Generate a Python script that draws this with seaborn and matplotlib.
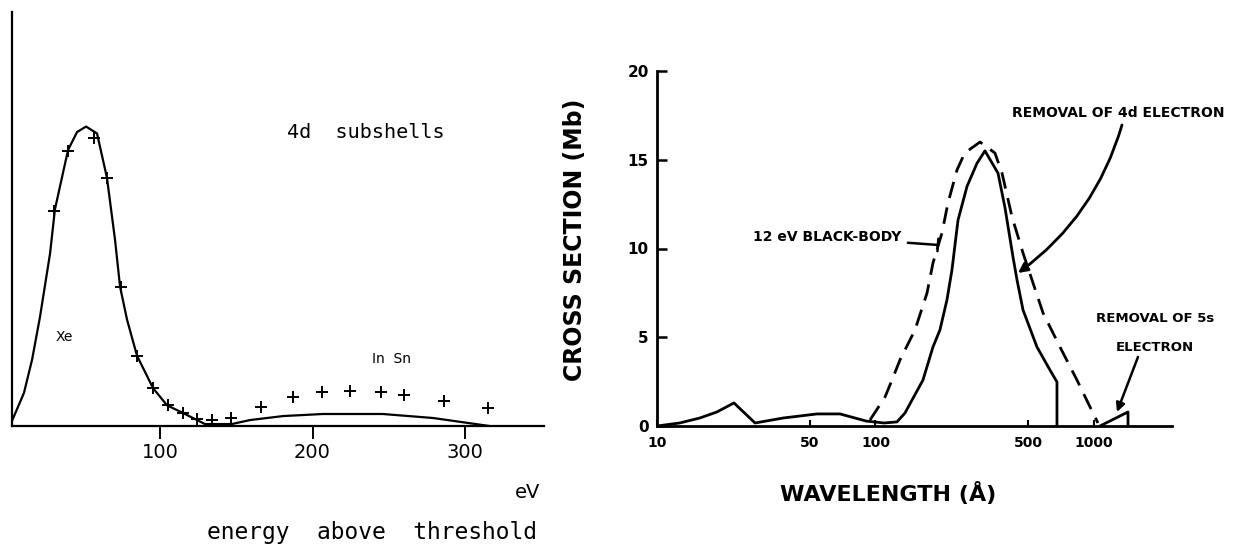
import numpy as np
import pandas as pd
import matplotlib
matplotlib.use("Agg")
import matplotlib.pyplot as plt
import seaborn as sns
from matplotlib import font_manager

# ---------------- data: left panel (4d subshells, arbitrary units) ----------------
xe_curve_ev = [2.3, 10.8, 16.1, 21.3, 23.3, 27.9, 31.1, 39.7, 45.6, 51.5, 58.7, 65.2,
               70.5, 73.8, 78.4, 84.9, 95.4, 104.6, 115.1, 124.3, 129.5, 147.0,
               159.0, 180.7, 206.9, 246.0, 279.0, 316.0]
xe_curve_y = [0.2, 2.4, 4.8, 7.9, 9.3, 12.5, 15.7, 20.0, 21.3, 21.7, 21.2, 18.0,
              13.5, 10.1, 7.7, 5.1, 2.75, 1.5, 0.94, 0.43, 0.14, 0.14,
              0.43, 0.72, 0.87, 0.87, 0.58, 0.0]
xe_pts_ev = [30.5, 39.7, 56.7, 65.2, 74.4, 84.9, 95.4, 105.2, 115.1, 124.3, 134.1, 146.6]
xe_pts_y = [15.6, 19.9, 20.9, 18.0, 10.1, 5.1, 2.75, 1.52, 0.94, 0.5, 0.43, 0.58]
insn_pts_ev = [166.2, 187.5, 206.2, 224.9, 244.6, 260.3, 285.9, 314.8]
insn_pts_y = [1.38, 2.07, 2.5, 2.57, 2.46, 2.25, 1.81, 1.27]
left_xticks = [100, 200, 300]

# ---------------- data: right panel (cross section vs wavelength) ----------------
solid_wl = [10, 12.7, 15.7, 18.8, 22.5, 28.1, 37.8, 54.0, 68.8, 90.5, 109.4, 125.4,
            136.4, 164.9, 183.2, 197.2, 212.3, 223.8, 238.6, 262.3, 291.4, 316.9,
            363.6, 391.4, 425.9, 444.3, 473.2, 548.3, 629.0, 677.0, 677.0]
solid_mb = [0.0, 0.17, 0.45, 0.79, 1.30, 0.17, 0.45, 0.68, 0.68, 0.28, 0.17, 0.23,
            0.73, 2.59, 4.45, 5.41, 7.10, 8.79, 11.6, 13.5, 14.8, 15.5,
            14.25, 12.3, 9.52, 8.23, 6.54, 4.45, 3.15, 2.48, 0.0]
s5_wl = [1065, 1431, 1431]
s5_mb = [0.0, 0.79, 0.0]
bb_wl = [94.4, 110.5, 119, 129.4, 151.6, 172.1, 183.2, 201.4, 214.6, 236, 256, 301,
         352, 379.3, 421.7, 473.2, 525.8, 584.4, 698.9, 835.6, 989.4, 1042.6]
bb_mb = [0.34, 1.63, 2.59, 3.72, 5.41, 7.49, 9.18, 10.87, 12.56, 14.42, 15.38, 16.0,
         15.38, 14.25, 11.77, 9.75, 8.06, 6.37, 4.45, 2.59, 0.73, 0.17]
right_xticks = [10, 50, 100, 500, 1000]
right_yticks = [0, 5, 10, 15, 20]

# ---------------- style ----------------
sns.set_theme(style="white", rc={"text.color": "black", "axes.labelcolor": "black",
                                 "xtick.color": "black", "ytick.color": "black",
                                 "axes.edgecolor": "black"})


def has_font(name):
    try:
        font_manager.findfont(font_manager.FontProperties(family=name),
                              fallback_to_default=False)
        return True
    except Exception:
        return False


if has_font("Liberation Sans Narrow"):
    narrow = "Liberation Sans Narrow"
    sz_tick, sz_ev, sz_small = 16.5, 16, 11
else:
    narrow = "DejaVu Sans"
    sz_tick, sz_ev, sz_small = 14, 14, 10
plt.rcParams["font.family"] = ["DejaVu Sans"]
mono = "DejaVu Sans Mono"
bold = dict(family="DejaVu Sans", weight="bold")

W, H = 1237, 546
fig = plt.figure(figsize=(W / 100, H / 100), dpi=100)
fig.patch.set_facecolor("white")

# ---------------- left panel ----------------
ax1 = fig.add_axes([12 / W, 120 / H, 532 / W, 414 / H])
left_line = pd.DataFrame({"ev": xe_curve_ev, "y": xe_curve_y})
sns.lineplot(data=left_line, x="ev", y="y", ax=ax1, color="black", lw=1.6,
             estimator=None, sort=False)
left_pts = pd.DataFrame({"ev": xe_pts_ev + insn_pts_ev, "y": xe_pts_y + insn_pts_y})
sns.scatterplot(data=left_pts, x="ev", y="y", ax=ax1, marker="+", s=70,
                color="black", linewidth=1.4)
ax1.set_xlim(2.95, 351.8)
ax1.set_ylim(0, 30)
for s in ["top", "right"]:
    ax1.spines[s].set_visible(False)
for s in ["left", "bottom"]:
    ax1.spines[s].set_color("black")
    ax1.spines[s].set_linewidth(1.6)
ax1.set_yticks([])
ax1.set_xticks(left_xticks)
ax1.set_xticklabels([str(v) for v in left_xticks], family=narrow, fontsize=sz_tick,
                    color="black")
ax1.tick_params(axis="x", direction="out", length=9, width=1.4, pad=3, colors="black",
                bottom=True)
ax1.set_xlabel("")
ax1.set_ylabel("")
ax1.set_facecolor("white")

fig.text(287 / W, 1 - 133 / H, "4d  subshells", family=mono, fontsize=14.5,
         ha="left", va="center", color="black")
fig.text(64 / W, 1 - 337 / H, "Xe", family=narrow, fontsize=sz_small,
         ha="center", va="center", color="black")
fig.text(392 / W, 1 - 359 / H, "In  Sn", family=narrow, fontsize=sz_small,
         ha="center", va="center", color="black")
fig.text(528 / W, 1 - 492 / H, "eV", family=narrow, fontsize=sz_ev,
         ha="center", va="center", color="black")
fig.text(372 / W, 1 - 533 / H, "energy  above  threshold", family=mono, fontsize=16.5,
         ha="center", va="center", color="black")

# ---------------- right panel ----------------
ax2 = fig.add_axes([657 / W, 120 / H, 515 / W, 355 / H])
ax2.set_xscale("log")
solid_df = pd.DataFrame({"wl": solid_wl, "mb": solid_mb})
sns.lineplot(data=solid_df, x="wl", y="mb", ax=ax2, color="black", lw=2.0,
             estimator=None, sort=False)
s5_df = pd.DataFrame({"wl": s5_wl, "mb": s5_mb})
sns.lineplot(data=s5_df, x="wl", y="mb", ax=ax2, color="black", lw=2.0,
             estimator=None, sort=False)
bb_df = pd.DataFrame({"wl": bb_wl, "mb": bb_mb})
sns.lineplot(data=bb_df, x="wl", y="mb", ax=ax2, color="black", lw=2.0,
             estimator=None, sort=False, dashes=False, linestyle=(0, (6, 3.5)))
ax2.set_xlim(10, 2275)
ax2.set_ylim(0, 20)
for s in ["top", "right"]:
    ax2.spines[s].set_visible(False)
for s in ["left", "bottom"]:
    ax2.spines[s].set_color("black")
    ax2.spines[s].set_linewidth(2.0)
ax2.set_xticks(right_xticks)
ax2.set_xticklabels([str(v) for v in right_xticks], fontsize=10, color="black", **bold)
ax2.xaxis.set_minor_locator(matplotlib.ticker.NullLocator())
ax2.set_yticks(right_yticks)
ax2.set_yticklabels([str(v) for v in right_yticks], fontsize=11, color="black", **bold)
ax2.tick_params(axis="x", direction="in", length=4, width=1.5, pad=7, colors="black",
                bottom=True)
ax2.tick_params(axis="y", direction="in", length=7, width=1.8, pad=6, colors="black",
                left=True)
ax2.set_facecolor("white")
ax2.set_ylabel("CROSS SECTION (Mb)", fontsize=17, color="black", **bold)
ax2.yaxis.set_label_coords(-0.136, 0.524)
ax2.set_xlabel("WAVELENGTH (Å)", fontsize=16, color="black", **bold)
ax2.xaxis.set_label_coords(0.449, -0.158)

# annotations
ax2.annotate("12 eV BLACK-BODY", xy=(193, 10.2), xytext=(132, 10.65),
             ha="right", va="center", fontsize=10, color="black", **bold,
             arrowprops=dict(arrowstyle="-[, widthB=0.45, lengthB=0.0", lw=1.8,
                             color="black", shrinkA=2, shrinkB=0))
ax2.text(1289, 17.63, "REMOVAL OF 4d ELECTRON", ha="center", va="center",
         fontsize=10, clip_on=False, color="black", **bold)
ax2.annotate("", xy=(449, 8.62), xytext=(1343, 16.96),
             arrowprops=dict(arrowstyle="-|>", connectionstyle="arc3,rad=-0.17",
                             lw=2.0, color="black", mutation_scale=14,
                             shrinkA=0, shrinkB=0),
             annotation_clip=False)
ax2.text(1901, 6.08, "REMOVAL OF 5s", ha="center", va="center", fontsize=9.5,
         clip_on=False, color="black", **bold)
ax2.text(1901, 4.45, "ELECTRON", ha="center", va="center", fontsize=9.5,
         clip_on=False, color="black", **bold)
ax2.annotate("", xy=(1274, 0.79), xytext=(1590, 3.89),
             arrowprops=dict(arrowstyle="-|>", lw=1.8, color="black",
                             mutation_scale=13, shrinkA=0, shrinkB=0),
             annotation_clip=False)

fig.savefig("out.png", dpi=100, facecolor="white")
